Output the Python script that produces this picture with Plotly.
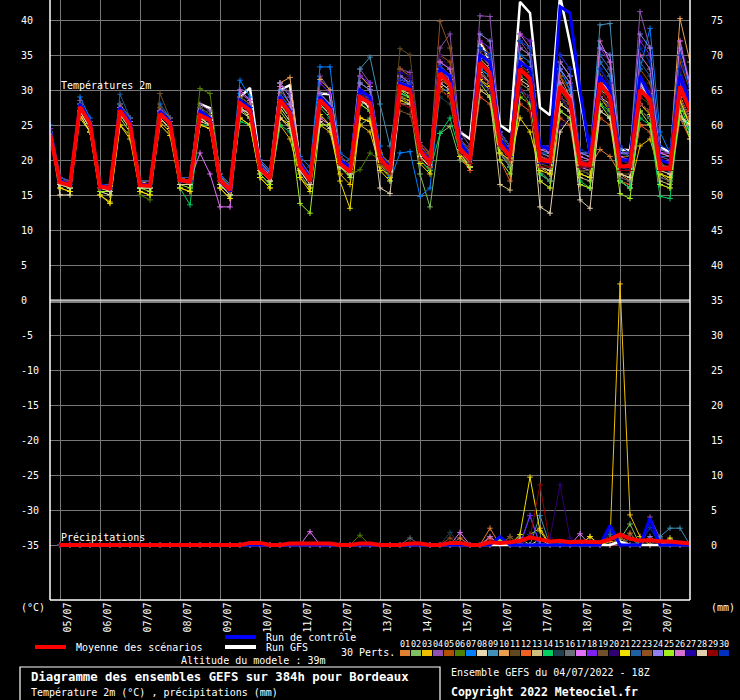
import plotly.graph_objects as go

# ---------------- data ----------------
STEP_HOURS = list(range(0, 385, 6))          # 04/07 18Z + 0..384 h
DATE_LABELS = ["05/07", "06/07", "07/07", "08/07", "09/07", "10/07", "11/07", "12/07",
               "13/07", "14/07", "15/07", "16/07", "17/07", "18/07", "19/07", "20/07"]
DATE_HOURS = [6 + 24 * k for k in range(16)]
LEFT_TICKS = [-35, -30, -25, -20, -15, -10, -5, 0, 5, 10, 15, 20, 25, 30, 35, 40]
RIGHT_TICKS = [0, 5, 10, 15, 20, 25, 30, 35, 40, 45, 50, 55, 60, 65, 70, 75]

MEMBER_COLORS = ["#E08030", "#80C060", "#F0C000", "#9050B0", "#B05000", "#508000",
                 "#0080FF", "#E8D8B0", "#4090B8", "#E8A050", "#604820", "#F06020",
                 "#D0C080", "#00D060", "#204050", "#687078", "#E070F8", "#8020F0",
                 "#705028", "#300070", "#F0E000", "#2060A0", "#905020", "#9080F0",
                 "#A0F020", "#D870D0", "#2000A0", "#E0D0B0", "#900000", "#0030C0"]

T_MEAN = [23.8, 16.8, 16.4, 27.6, 25.2, 16.2, 16.0, 27.1, 25.0, 16.4, 16.3, 26.6, 25.2,
          17.1, 16.9, 26.4, 25.7, 17.1, 15.7, 28.1, 27.1, 18.8, 17.4, 28.6, 26.7, 19.1,
          17.1, 28.6, 27.1, 19.5, 18.3, 29.0, 28.1, 20.3, 18.5, 30.5, 30.0, 21.4, 19.5,
          32.4, 30.8, 21.6, 20.1, 33.9, 32.4, 22.3, 20.5, 33.0, 31.6, 20.0, 19.8, 30.5,
          28.6, 19.5, 19.3, 31.0, 29.0, 19.1, 19.1, 30.0, 28.6, 18.8, 18.8, 30.5, 27.1]
T_CTRL = [24.5, 17, 16.5, 28, 25.5, 16.5, 16, 27.5, 25.5, 16.5, 16.5, 27, 25.5, 17, 17, 27, 26,
          17, 15.5, 28.5, 27.5, 19, 17.5, 29, 27, 19.5, 17.5, 29, 27.5, 20, 19, 30, 29,
          20.5, 19, 31, 30.5, 21.5, 20, 33, 32, 22.5, 20.5, 35, 34, 23, 21, 34, 33,
          22, 21.5, 41.9, 41, 30, 21, 32, 30, 20, 20, 32, 29, 20, 19.5, 32, 28]
T_GFS = [24.5, 17, 16.5, 28, 25.5, 16, 16, 27.5, 25.5, 16.5, 16.5, 27, 25.5, 17, 17, 28, 27.4,
         17.5, 16, 29, 30.3, 19.5, 18, 30, 30.7, 19.5, 17.5, 29.5, 29.4, 20, 19, 29, 27.4,
         20.5, 19, 31, 30.5, 21.5, 20, 33, 32, 24, 23, 37, 34, 25, 24, 42.6, 41,
         27.5, 26.4, 43.5, 36.7, 28.6, 21, 31, 30, 21.5, 21.4, 31, 29, 22, 21, 26.2, 25]

T_M01 = [24, 17, 17, 28, 25, 16, 16, 27, 25, 17, 16.5, 27, 25, 17.5, 17, 27, 26, 17.5, 16, 28.5, 27.5, 19.5, 18, 29, 27, 19, 17, 29, 27.5, 20, 19, 30, 28.5, 20.5, 19, 31, 30, 21, 20, 33, 32, 22, 20.5, 30, 29, 22, 21, 34, 33, 21, 20.5, 32, 29, 20, 19, 21.5, 20.5, 18, 17, 25, 25, 19.5, 18.5, 29, 26]
T_M02 = [24, 16.5, 16, 27, 24.5, 15.5, 15.5, 26.5, 24.5, 16, 16, 26, 24.5, 16.5, 16.5, 26, 25, 16.5, 15, 27.5, 26.5, 18.5, 17, 28, 26, 18, 16, 28, 26.5, 19, 18, 25, 26, 19.5, 17.5, 29, 28, 18, 13.3, 23.8, 24.8, 20, 19, 33, 32, 22, 20, 32, 31, 19, 18.5, 29, 27, 18, 17.5, 30, 29, 19, 19.5, 27, 26, 18, 17.5, 29, 26]
T_M03 = [23, 16, 15.5, 26.5, 24, 15, 14, 25, 23.5, 15.5, 15, 25.5, 24, 16, 15.5, 25, 24.5, 16, 14.5, 26, 25, 17.5, 16, 25, 23, 17.5, 16, 25, 24, 18, 16.5, 25, 24, 19, 17.5, 29, 28.5, 20, 18.5, 30.5, 29.5, 21, 19, 31.5, 30.5, 21, 19.5, 31, 30, 19, 18, 28, 27, 18.5, 18, 29, 27, 17, 16, 22, 23, 18, 17, 28, 25]
T_M04 = [24.5, 17.5, 17, 28.5, 25.5, 16.5, 16.5, 28, 26, 17, 17, 27.5, 26, 17.5, 17.5, 28, 27, 18, 16.5, 29.5, 28.5, 20, 18.5, 31, 29.5, 20, 18, 32, 30, 20.5, 19.5, 33, 31, 21, 19.5, 33, 32.5, 22.5, 21, 36, 38, 24, 22, 40.6, 40.5, 24, 22, 37, 35, 21.5, 21, 33, 31, 21, 20.5, 35, 33, 22, 21, 41.2, 36, 20.5, 20, 33, 28]
T_M05 = [24, 17, 16.5, 27.5, 25.5, 16, 16, 27, 25.5, 16.5, 16.5, 27, 25.5, 17, 17, 27.5, 26, 17.5, 16, 28.5, 27, 19, 17.5, 29.5, 27, 19.5, 17.5, 29, 27.5, 20, 19, 30, 29, 21, 19.5, 33, 32, 22, 21, 35, 34, 23, 21.5, 37, 35, 24, 22, 36, 35, 21.5, 21.5, 32, 30, 21, 21, 34, 32, 20.5, 20.5, 33, 31, 21, 21, 34, 30]
T_M06 = [23.5, 16.5, 16, 27, 24.5, 15.5, 15, 26.5, 24.5, 15, 14.3, 26, 24.5, 17, 16.5, 30.2, 29.5, 18, 16, 28, 27, 19, 17.5, 28, 26, 19, 17, 28.5, 27, 19, 17.9, 18.6, 21, 20, 18, 29, 29, 21, 19.5, 32, 31, 22, 20, 34, 32, 22.5, 20.5, 33, 32, 20, 20, 30, 28, 19, 19, 31, 29, 19, 18.5, 30, 28, 18.5, 18.5, 30, 27]
T_M07 = [25, 17.5, 17, 29, 26, 16.5, 16.5, 28, 26, 17, 17, 28, 26, 17.5, 17.5, 27.5, 26.5, 18, 16.5, 31.4, 29, 20, 18.5, 30, 28, 20.5, 19, 33.3, 33.3, 21, 20, 31, 30, 22, 17, 21, 21.2, 14.8, 16, 30, 30, 22, 20, 33, 32, 23, 21, 35, 34, 21, 21, 33, 30, 20.5, 20, 34, 32, 20, 20, 33, 38.8, 24, 21, 32, 29]
T_M08 = [24, 15, 15, 26.5, 24, 15.5, 15, 26.5, 24.5, 16, 16, 26, 24.5, 16.5, 16.5, 25.5, 25, 16.5, 15, 27, 26, 18.5, 17, 27.5, 25.5, 18.5, 16.5, 28, 26.5, 19, 18, 26, 25.5, 19.5, 18, 29.5, 29, 20.5, 19, 31, 30, 21.5, 19.5, 32, 31, 21, 19, 30, 29, 13.3, 12.4, 24, 26, 19, 19, 29, 28, 19, 19, 28, 27, 18.5, 18.5, 29, 26]
T_M09 = [24, 17, 16.5, 27.5, 25, 16, 16, 27, 25, 16.5, 16.5, 26.5, 25, 17, 17, 26.5, 26, 17.5, 16, 28.5, 27.5, 19.5, 18, 29.5, 27.5, 19.5, 18, 29.5, 28, 20, 19, 33, 34.7, 28, 22, 31, 30, 21.5, 20, 33, 32, 23, 21, 35, 34, 23, 21, 34, 33, 21, 20.5, 34, 32, 21, 21, 39.3, 39.5, 21.5, 20.5, 31, 29, 20, 18, 26, 24]
T_M10 = [24, 17, 16.5, 27.5, 25.5, 16.5, 16, 27.5, 25.5, 17, 16.5, 27, 25.5, 17.5, 17, 27, 26, 17.5, 16, 29, 28, 19.5, 18, 31, 31.8, 19.5, 17.5, 31.5, 30, 20, 19, 32, 30.5, 21, 19.5, 32, 31.5, 21.5, 20, 33.5, 32, 22.5, 20.5, 34.5, 33, 23, 21, 34.5, 33, 20.5, 20, 31, 29, 20, 19.5, 32, 30, 20, 19.5, 31.5, 29.5, 21, 20.5, 40.2, 34]
T_M11 = [24, 17, 17, 28, 25.5, 16.5, 16.5, 27.5, 25.5, 17, 17, 27.5, 25.5, 17.5, 17.5, 27.5, 26.5, 17.5, 16, 29, 28, 19.5, 18, 29.5, 27.5, 19.5, 17.5, 29.5, 28, 20.5, 19.5, 31, 30, 21, 19.5, 35.9, 35, 22, 20.5, 34, 33, 23, 21, 35.5, 34, 23.5, 21.5, 34, 33, 20, 20, 30, 28, 19.5, 19, 30, 28, 19, 19, 29, 28, 19.5, 19, 30, 27]
T_M12 = [24, 16.5, 16, 27, 24.5, 16, 15.5, 26.5, 24.5, 16, 16, 26, 24.5, 16.5, 16.5, 26, 25, 16.5, 15, 27.5, 26.5, 18.5, 17, 26, 25, 18.5, 16.5, 26, 25, 19, 18, 26, 25.5, 19.5, 18, 30, 29.5, 20.5, 19, 31.5, 30.5, 20.5, 18.5, 29, 28, 20, 17, 28, 27, 17, 16, 26, 25, 16.5, 16, 26, 25, 17, 16.5, 25, 24, 16.5, 16, 26, 23]
T_M13 = [24, 17, 16.5, 27.5, 25, 16, 16, 27, 25, 16.5, 16.5, 26.5, 25, 17, 17, 26, 25.5, 17, 15.5, 27.5, 26.5, 19, 17.5, 28, 26, 19, 17, 28, 26.5, 19.5, 18.5, 28.5, 27.5, 20, 18.5, 30, 29.5, 21, 19.5, 32, 30.5, 21, 19, 30, 29, 16.5, 15.7, 30, 29, 18, 17, 27, 26, 17.5, 17, 27, 26, 17, 16, 27, 26, 17, 16.5, 27, 24]
T_M14 = [24, 16.5, 16, 27, 24.5, 15.5, 15.5, 26.5, 24.5, 16, 16, 26, 24.5, 16, 13.6, 25, 25, 16.5, 15, 25.5, 25, 18, 16.5, 25, 24, 18.5, 16.5, 27.5, 26, 19, 18, 28, 27, 19.5, 18, 29.5, 29, 20, 18.5, 23.8, 26, 21, 19.5, 31, 30, 21, 19, 30, 28, 18, 17, 29, 27, 17, 16, 28, 27, 17, 16, 26, 25, 14.8, 14.5, 28, 24]
T_M15 = [24, 17, 16.5, 27.5, 25, 16, 16, 27, 25, 16.5, 16.5, 26.5, 25, 17, 17, 26.5, 25.5, 17, 15.5, 28, 27, 19, 17.5, 28.5, 26.5, 19, 17, 28.5, 27, 19.5, 18.5, 29, 28, 19.5, 18, 28, 27.5, 20.5, 19, 29, 28, 21.5, 20, 31, 30, 21, 19.5, 30, 29, 19, 18.5, 27, 26, 18.5, 18, 28, 26.5, 18, 17.5, 27, 26, 18, 17.5, 28, 25.5]
T_M16 = [24, 17, 16.5, 27.5, 25, 16, 16, 27, 25.5, 16.5, 16.5, 27, 25.5, 17, 17, 27, 26, 17.5, 16, 28.5, 27.5, 19.5, 18, 29, 27, 19.5, 17.5, 29, 27.5, 20, 19, 29.5, 28.5, 20.5, 19, 29, 28, 21.5, 20, 33, 31.5, 22.5, 20.5, 33, 31, 21, 19, 31, 30, 18.5, 17, 29, 28, 18, 17.5, 30, 28, 17.5, 17, 28, 27, 17.5, 17, 29, 25]
T_M17 = [24, 17, 16.5, 27.5, 25, 16, 16, 27, 25, 16.5, 16.5, 26.5, 25, 17, 17, 21, 18, 13.3, 13.3, 27, 27, 19, 17.5, 28.5, 26.5, 18.5, 16.5, 26, 25, 19.5, 18.5, 29, 28, 20, 18.5, 31, 30.5, 21, 19.5, 33, 31.5, 21, 19, 32, 31, 22.5, 20.5, 34, 33, 20.5, 20, 31, 29, 19, 18.5, 31, 29, 19, 19, 30.5, 28.5, 19, 19, 31, 27]
T_M18 = [24.5, 17.5, 17, 28, 25.5, 16.5, 16.5, 27.5, 25.5, 17, 17, 27, 25.5, 17.5, 17.5, 27, 26, 17.5, 16, 30, 28.5, 19.5, 18, 29, 27, 19.5, 17.5, 31, 29.5, 20, 19, 32, 31, 20.5, 19, 31.5, 31, 21.5, 20, 34, 33, 23, 21, 37, 36, 24, 22, 38, 37, 22, 22, 35, 33, 21, 21, 36, 34, 21, 21, 37, 35, 21, 21, 37, 31]
T_M19 = [24, 17, 16.5, 28, 25.5, 16.5, 16, 28, 26, 17, 17, 29.5, 26, 17.5, 17, 27, 26, 17.5, 16, 28.5, 27.5, 19.5, 17.5, 28.5, 26.5, 19, 17, 28.5, 27, 19.5, 18.5, 29, 28, 20, 18.5, 27, 26.5, 21, 19.5, 30, 29, 21, 19.5, 31, 30, 21.5, 19.5, 31.5, 30.5, 19.5, 19, 28, 27, 18.5, 18.5, 29, 27.5, 18, 18, 28, 27, 18.5, 18, 28, 25.5]
T_M20 = [24, 17, 16.5, 27.5, 25, 16, 16, 27, 25, 16.5, 16.5, 26.5, 25, 17, 17, 26.5, 25.5, 17, 15.5, 28, 27, 19, 17.5, 28.5, 26.5, 19, 17, 28.5, 27, 19.5, 18.5, 29, 28, 20.5, 19, 32, 31.5, 21.5, 20, 35, 33, 22.5, 20.5, 36, 34.5, 23, 21.5, 33, 31, 21, 20, 25, 26, 20, 19.5, 33, 30.5, 20, 19.5, 32, 30, 20, 19.5, 33, 28.5]
T_M21 = [23.5, 16, 15.5, 26, 24, 15, 13.8, 25, 23, 15.5, 15, 25, 23.5, 16, 15.5, 25, 24.5, 16, 14.5, 26, 25, 17.5, 16, 26, 25, 17.5, 15.5, 26.5, 25, 17, 13.1, 26, 25.5, 18.5, 17, 28.5, 28, 19.5, 18, 30, 29, 20.5, 19, 31.5, 30, 21, 20, 26, 24, 18.5, 18, 28, 27, 18, 17.5, 29, 27.5, 18, 17.5, 28, 26.5, 18, 17.5, 28.5, 25]
T_M22 = [24, 17.5, 17, 28, 25.5, 16.5, 16.5, 29.4, 26, 17, 17, 27, 25.5, 17.5, 17.5, 27, 26, 17.5, 16, 28.5, 27.5, 19.5, 18, 29, 27, 19.5, 17.5, 29, 28, 20, 19, 30, 29, 20.5, 19, 31.5, 31, 21.5, 20, 33.5, 32, 23, 21, 36, 35, 23.5, 22, 37, 36, 22, 21.5, 34, 32, 21, 21, 35, 33, 21, 20.5, 34, 32, 20.5, 20.5, 35, 30]
T_M23 = [24, 17, 16.5, 27.5, 25, 16, 16, 27, 25, 16.5, 16.5, 27, 25.5, 17, 17, 27, 26, 17, 15.5, 28, 27, 19, 17.5, 28.5, 26.5, 19, 17, 28.5, 27, 19.5, 18.5, 29.5, 28.5, 20.5, 19, 32, 31, 22, 20.5, 39.8, 36, 23, 21, 35, 33.5, 23, 21, 33.5, 32.5, 20.5, 20, 30.5, 28.5, 19.5, 19.5, 31, 29, 19, 19, 30, 28.5, 19, 19, 30.5, 27]
T_M24 = [24, 17, 16.5, 27.5, 25, 16, 16, 27, 25, 16.5, 16.5, 26.5, 25, 17, 17, 26.5, 25.5, 17, 15.5, 28, 27, 19, 17.5, 31, 29, 19.5, 17.5, 29.5, 28, 20, 19, 31, 30, 20.5, 19, 32, 31, 21.5, 20, 33, 32, 23, 21, 38, 37, 24, 22, 36, 35, 21.5, 21, 33, 31, 21, 20.5, 36, 35, 21, 21, 38, 36, 21.5, 21, 36, 31]
T_M25 = [24, 16.5, 16, 27, 24.5, 15.5, 15.5, 26, 24, 16, 15.5, 26, 24.5, 16.5, 16, 26, 25, 16.5, 15, 27.5, 26, 18, 16.5, 27, 25, 13.8, 12.4, 25, 25, 19, 17.5, 28, 27, 19.5, 18, 30, 29, 20.5, 19, 32, 30.5, 21, 19, 31, 29, 20, 18, 29, 28, 17, 16, 27, 26, 16.5, 16, 28, 26, 15.2, 14.5, 27, 25, 16.5, 16, 27, 23]
T_M26 = [24, 17, 16.5, 27.5, 25, 16, 16, 27.5, 25.5, 16.5, 16.5, 27, 25.5, 17, 17, 27, 26, 17.5, 16, 30, 28.5, 19.5, 17.5, 30.5, 28, 19.5, 17.5, 29, 27.5, 20, 19, 30, 29, 20.5, 19, 31.5, 31, 21.5, 20, 34, 33, 21.5, 19.5, 35, 33.5, 23, 21, 38, 36, 22, 21, 34, 32, 20.5, 20, 37, 34, 20.5, 20, 35, 33, 21, 20.5, 37, 30]
T_M27 = [24, 17, 16.5, 27.5, 25, 16, 16, 27, 25, 16.5, 16.5, 26.5, 25, 17, 17, 26.5, 25.5, 17, 15.5, 28, 27, 19, 17.5, 28.5, 26.5, 19, 17, 28.5, 27, 19.5, 18.5, 29.5, 28.5, 20.5, 19, 32.5, 32, 21.5, 20, 31, 30, 22, 20, 31, 30, 22, 20.5, 30, 29, 19.5, 19.5, 29, 27, 19, 19, 29, 27.5, 19, 18.5, 28, 27, 18.5, 18.5, 33, 29]
T_M28 = [24, 16.5, 16, 27, 24.5, 16, 15.5, 26.5, 24.5, 16, 16, 26, 24.5, 16.5, 16.5, 26, 25, 16.5, 15, 27.5, 26.5, 18.5, 17, 26, 24.5, 18.5, 16.5, 25.5, 24.5, 19, 18, 28.5, 27.5, 16, 15.2, 28, 28, 20.5, 19, 31, 30, 21.5, 19.5, 32.5, 31, 22, 20, 31.5, 30.5, 19, 18.5, 28, 27, 14.3, 13.1, 27, 26, 18, 17.5, 28, 27, 18.5, 18, 29, 26]
T_M29 = [24, 17, 16.5, 27.5, 25, 16, 16, 27, 25, 16.5, 16.5, 26.5, 25, 17, 17, 26.5, 25.5, 17, 15.5, 28, 27, 19, 17.5, 28.5, 26.5, 19, 17, 28.5, 27, 19.5, 18.5, 29, 28, 19.5, 18, 28, 27.5, 20, 19, 30, 29, 21, 19.5, 32, 31, 22, 20, 31, 27, 19, 19, 29, 27.5, 19, 19, 30, 28, 18.5, 18.5, 28, 27, 18.5, 18.5, 29, 26]
T_M30 = [24, 17, 16.5, 27.5, 25, 16, 16, 27, 25, 16.5, 16.5, 26.5, 25, 17, 17, 26.5, 25.5, 17.5, 16, 28.5, 27.5, 19.5, 18, 29, 27, 19.5, 17.5, 29, 27.5, 20, 19, 30, 29, 20.5, 19, 31.5, 31, 21.5, 20, 33.5, 32, 23, 21, 36, 35, 24, 22, 37, 36, 22, 22, 35, 33, 21.5, 21, 33, 31, 22, 21, 36, 34, 22, 21.5, 35, 30]

MEMBERS_T = [T_M01, T_M02, T_M03, T_M04, T_M05, T_M06, T_M07, T_M08, T_M09, T_M10,
             T_M11, T_M12, T_M13, T_M14, T_M15, T_M16, T_M17, T_M18, T_M19, T_M20,
             T_M21, T_M22, T_M23, T_M24, T_M25, T_M26, T_M27, T_M28, T_M29, T_M30]

# precipitation (mm per 6 h), non-zero steps only: {step index: mm}
P_M01 = {41: 1.0, 44: 2.4, 58: 1.7}
P_M02 = {57: 0.8, 58: 3.0}
P_M03 = {48: 1.5, 49: 2.4, 56: 0.5, 57: 37.3, 58: 4.3, 59: 1.2}
P_M04 = {60: 4.0, 61: 1.0}
P_M05 = {46: 1.2}
P_M06 = {31: 1.4}
P_M07 = {48: 4.2}
P_M08 = {49: 0.8}
P_M09 = {49: 4.2, 61: 1.2, 62: 2.4, 63: 2.4}
P_M10 = {54: 1.2, 58: 1.0}
P_M11 = {46: 1.2}
P_M12 = {44: 1.0, 57: 1.2}
P_M13 = {47: 1.0}
P_M14 = {45: 0.8}
P_M15 = {40: 1.8}
P_M16 = {36: 1.0}
P_M17 = {26: 1.9, 41: 1.8, 53: 1.6}
P_M18 = {48: 4.2}
P_M19 = {46: 1.2}
P_M20 = {50: 1.0, 51: 8.6, 52: 1.0}
P_M21 = {47: 1.5, 48: 9.7, 49: 2.0, 54: 1.2, 62: 1.0}
P_M22 = {56: 1.5, 58: 1.0}
P_M23 = {40: 1.0, 57: 1.2}
P_M24 = {60: 1.2}
P_M25 = {45: 0.6}
P_M26 = {44: 1.2, 62: 0.5}
P_M27 = {48: 1.5}
P_M28 = {62: 0.6}
P_M29 = {48: 1.0, 49: 8.6}
P_M30 = {56: 2.0, 60: 2.5}
P_CTRL = {45: 1.2, 56: 2.8, 60: 3.8}
P_GFS = {57: 0.5}
P_MEAN = {20: 0.3, 21: 0.3, 24: 0.2, 25: 0.2, 26: 0.3, 27: 0.2, 28: 0.2, 31: 0.2, 32: 0.2,
          36: 0.2, 37: 0.2, 40: 0.3, 41: 0.3, 44: 0.4, 45: 0.3, 46: 0.4, 47: 0.6, 48: 1.1,
          49: 0.8, 50: 0.5, 51: 0.6, 52: 0.4, 53: 0.5, 54: 0.4, 55: 0.4, 56: 0.8, 57: 1.5,
          58: 0.9, 59: 0.6, 60: 0.7, 61: 0.5, 62: 0.5, 63: 0.3, 64: 0.2}

MEMBERS_P = [P_M01, P_M02, P_M03, P_M04, P_M05, P_M06, P_M07, P_M08, P_M09, P_M10,
             P_M11, P_M12, P_M13, P_M14, P_M15, P_M16, P_M17, P_M18, P_M19, P_M20,
             P_M21, P_M22, P_M23, P_M24, P_M25, P_M26, P_M27, P_M28, P_M29, P_M30]

# ---------------- figure ----------------
FONT = "DejaVu Sans Mono"
GRID = "#777777"
W, H = 740, 700
L, R, T, B = 50, 50, 0, 100
PW, PH = W - L - R, H - T - B


def px_x(px):
    return (px - L) / PW


def px_y(py):
    return (T + PH - py) / PH


P_HOURS = STEP_HOURS[1:]


def full_precip(d):
    return [d.get(i, 0.0) for i in range(1, len(STEP_HOURS))]


fig = go.Figure()


def add_line(x, y, color, width, axis="y", markers=True):
    fig.add_trace(go.Scatter(
        x=x, y=y, yaxis=axis, mode="lines+markers" if markers else "lines",
        line=dict(color=color, width=width),
        marker=dict(symbol="cross-thin", size=4, color=color, line=dict(color=color, width=1)),
        hoverinfo="skip", showlegend=False))


# temperatures (GFS run underneath the members, control and mean on top)
add_line(STEP_HOURS, T_GFS, "#FFFFFF", 2.5, markers=False)
for vals, col in zip(MEMBERS_T, MEMBER_COLORS):
    add_line(STEP_HOURS, vals, col, 1)
add_line(STEP_HOURS, T_CTRL, "#0000FF", 3, markers=False)
add_line(STEP_HOURS, T_MEAN, "#FF0000", 4, markers=False)

# precipitation (right axis, mm)
for d, col in zip(MEMBERS_P, MEMBER_COLORS):
    add_line(P_HOURS, full_precip(d), col, 1, axis="y2")
add_line(P_HOURS, full_precip(P_GFS), "#FFFFFF", 2.5, axis="y2", markers=False)
add_line(P_HOURS, full_precip(P_CTRL), "#0000FF", 3, axis="y2", markers=False)
add_line(P_HOURS, full_precip(P_MEAN), "#FF0000", 4, axis="y2", markers=False)

YR = 300 / 7
fig.update_layout(
    width=W, height=H, margin=dict(l=L, r=R, t=T, b=B),
    paper_bgcolor="black", plot_bgcolor="black", showlegend=False,
    font=dict(family=FONT, color="white", size=10),
    xaxis=dict(range=[0, 384], tickvals=DATE_HOURS, showticklabels=False, ticks="",
               showgrid=True, gridcolor=GRID, gridwidth=1, zeroline=False, showline=False),
    yaxis=dict(range=[-YR, YR], tickvals=LEFT_TICKS, showticklabels=False, ticks="",
               showgrid=True, gridcolor=GRID, gridwidth=1, zeroline=False, showline=False),
    yaxis2=dict(range=[35 - YR, 35 + YR], overlaying="y", side="right", tickvals=RIGHT_TICKS,
                ticktext=[str(v) for v in RIGHT_TICKS], ticks="outside", ticklen=18,
                tickcolor="black", tickfont=dict(family=FONT, size=10, color="white"),
                showgrid=False, zeroline=False, showline=False),
)

shapes = []
# plot frame (left, right, bottom) and double separator line at 0 °C
shapes.append(dict(type="line", xref="paper", yref="paper", x0=0, x1=0, y0=0, y1=1,
                   line=dict(color="white", width=1.5)))
shapes.append(dict(type="line", xref="paper", yref="paper", x0=1, x1=1, y0=0, y1=1,
                   line=dict(color="white", width=1.5)))
shapes.append(dict(type="line", xref="paper", yref="paper", x0=0, x1=1, y0=0, y1=0,
                   line=dict(color="white", width=1.5)))
for yy in (0, -2 / 7):
    shapes.append(dict(type="line", xref="paper", yref="y", x0=0, x1=1, y0=yy, y1=yy,
                       line=dict(color="white", width=1.2)))

# legend bars
for (x0, x1, py, col) in [(35, 66, 647, "#FF0000"), (225, 256, 637, "#0000FF"),
                          (225, 256, 647, "#FFFFFF")]:
    shapes.append(dict(type="line", xref="paper", yref="paper", x0=px_x(x0), x1=px_x(x1),
                       y0=px_y(py), y1=px_y(py), line=dict(color=col, width=4)))
# title box
shapes.append(dict(type="rect", xref="paper", yref="paper", x0=px_x(20), x1=px_x(440),
                   y0=px_y(667), y1=px_y(702), line=dict(color="white", width=1.2)))
# member colour swatches
for k, col in enumerate(MEMBER_COLORS):
    x0 = 400 + 11 * k
    shapes.append(dict(type="rect", xref="paper", yref="paper", x0=px_x(x0), x1=px_x(x0 + 10),
                       y0=px_y(656), y1=px_y(650), line=dict(width=0), fillcolor=col))
fig.update_layout(shapes=shapes)

ann = []


def text(px, py, s, size=10, bold=False, anchor="left"):
    ann.append(dict(xref="paper", yref="paper", x=px_x(px), y=px_y(py), text=f"<b>{s}</b>" if bold else s,
                    showarrow=False, xanchor=anchor, yanchor="middle",
                    font=dict(family=FONT, size=size, color="white")))


for v in LEFT_TICKS:
    ann.append(dict(xref="paper", yref="y", x=px_x(19), y=v, text=str(v), showarrow=False,
                    xanchor="left", yanchor="middle", font=dict(family=FONT, size=10, color="white")))
for h, lab in zip(DATE_HOURS, DATE_LABELS):
    ann.append(dict(xref="x", yref="paper", x=h, xshift=7, y=px_y(617.5), text=lab, textangle=-90,
                    showarrow=False, xanchor="center", yanchor="middle",
                    font=dict(family=FONT, size=10, color="white")))
for k in range(len(MEMBER_COLORS)):
    text(400 + 11 * k + 5, 644, f"{k + 1:02d}", size=8.5, anchor="center")

text(59, 86, "Températures 2m")
text(59, 537, "Précipitations")
text(19, 607, "(°C)")
text(709, 607, "(mm)")
text(74, 647, "Moyenne des scénarios")
text(264, 637, "Run de contrôle")
text(264, 647, "Run GFS")
text(339, 652, "30 Perts.")
text(179, 660, "Altitude du modele : 39m")
text(29, 677, "Diagramme des ensembles GEFS sur 384h pour Bordeaux", size=12.3, bold=True)
text(29, 692, "Température 2m (°C) , précipitations (mm)")
text(449, 672, "Ensemble GEFS du 04/07/2022 - 18Z")
text(449, 692, "Copyright 2022 Meteociel.fr", size=11.5, bold=True)
fig.update_layout(annotations=ann)

fig.write_html("out.html", config={"displayModeBar": False},
               post_script="document.body.style.margin='0';document.body.style.overflow='hidden';")
